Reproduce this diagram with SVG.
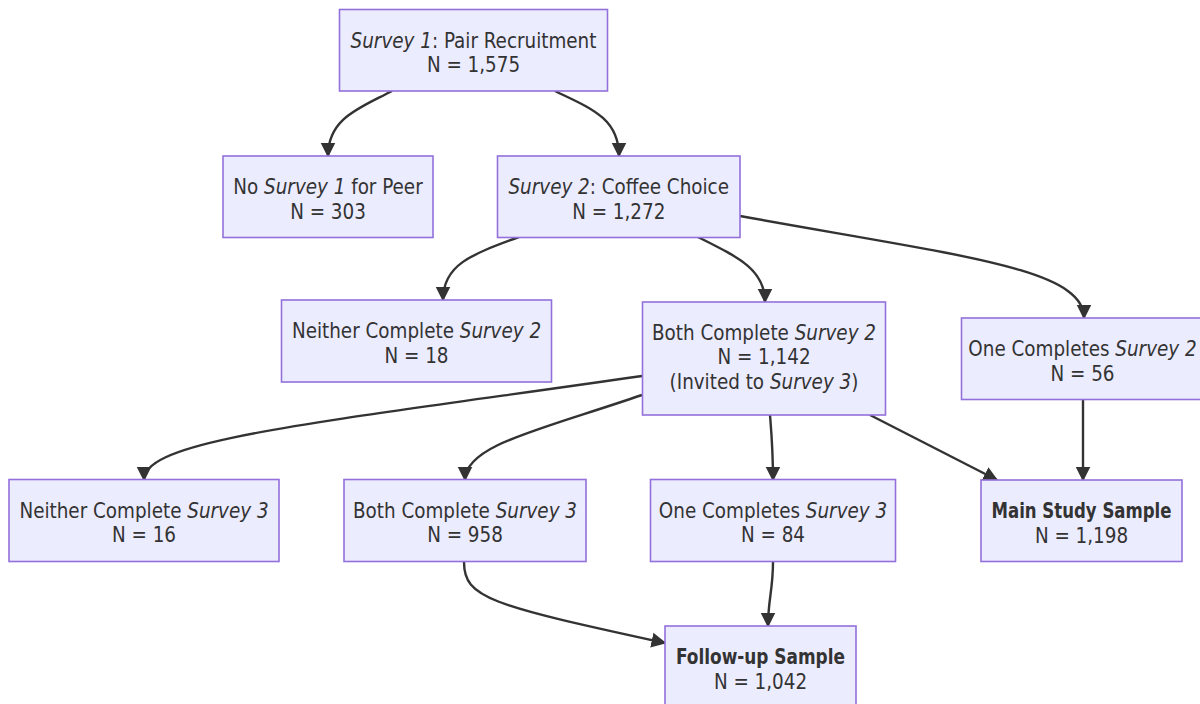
<svg xmlns="http://www.w3.org/2000/svg" width="1200" height="704" viewBox="0 0 1200 704">
<style>
  .node rect { fill:#ECECFF; stroke:#9370DB; stroke-width:1.6; }
  .node text { font-family:"DejaVu Sans Condensed","DejaVu Sans",sans-serif; font-size:20.4px; fill:#333333; text-anchor:middle; }
  .i { font-style:italic; }
  .b { font-weight:bold; }
  .edges path { fill:none; stroke:#333333; stroke-width:2.4; }
</style>
<defs>
  <marker id="arrow" viewBox="0 0 10 10" refX="9" refY="5" markerUnits="userSpaceOnUse" markerWidth="15" markerHeight="16" orient="auto">
    <path d="M0,0 L10,5 L0,10 z" fill="#333333"/>
  </marker>
</defs>
<rect width="1200" height="704" fill="#ffffff"/>
<g class="edges">
  <path d="M392,91 C360,108 328,118 328,156" marker-end="url(#arrow)"/>
  <path d="M555,91 C590,108 619,118 619,156" marker-end="url(#arrow)"/>
  <path d="M519,237 C470,255 443,265 443,300" marker-end="url(#arrow)"/>
  <path d="M698,237 C740,258 765,270 765,302" marker-end="url(#arrow)"/>
  <path d="M740,216 C960,256 1084,268 1084,318" marker-end="url(#arrow)"/>
  <path d="M642,376 C300,425 144,440 144,480" marker-end="url(#arrow)"/>
  <path d="M642,395 C540,430 465,445 465,480" marker-end="url(#arrow)"/>
  <path d="M770,415 C772,440 773,450 773,480" marker-end="url(#arrow)"/>
  <path d="M870,415 L997,480" marker-end="url(#arrow)"/>
  <path d="M1083,400 L1083,480" marker-end="url(#arrow)"/>
  <path d="M464,562 C464,598 490,605 665,643" marker-end="url(#arrow)"/>
  <path d="M773,562 C773,590 768,600 768,626" marker-end="url(#arrow)"/>
</g>
<g id="n-survey1" class="node">
  <rect x="339.5" y="9.5" width="268" height="81.5"/>
  <text x="473.5" y="47.5"><tspan class="i">Survey 1</tspan>: Pair Recruitment</text>
  <text x="473.5" y="72">N = 1,575</text>
</g>
<g id="n-nosurvey1" class="node">
  <rect x="223" y="156" width="210" height="81.5"/>
  <text x="328" y="194">No <tspan class="i">Survey 1</tspan> for Peer</text>
  <text x="328" y="218.5">N = 303</text>
</g>
<g id="n-survey2" class="node">
  <rect x="497.5" y="156" width="242.5" height="81.5"/>
  <text x="618.75" y="194"><tspan class="i">Survey 2</tspan>: Coffee Choice</text>
  <text x="618.75" y="218.5">N = 1,272</text>
</g>
<g id="n-neither2" class="node">
  <rect x="281.5" y="300" width="270" height="82"/>
  <text x="416.5" y="338">Neither Complete <tspan class="i">Survey 2</tspan></text>
  <text x="416.5" y="362.5">N = 18</text>
</g>
<g id="n-both2" class="node">
  <rect x="642.5" y="302" width="243" height="113"/>
  <text x="764" y="339.5">Both Complete <tspan class="i">Survey 2</tspan></text>
  <text x="764" y="364">N = 1,142</text>
  <text x="764" y="388.5">(Invited to <tspan class="i">Survey 3</tspan>)</text>
</g>
<g id="n-one2" class="node">
  <rect x="961.5" y="318" width="242" height="81.5"/>
  <text x="1082.5" y="356">One Completes <tspan class="i">Survey 2</tspan></text>
  <text x="1082.5" y="380.5">N = 56</text>
</g>
<g id="n-neither3" class="node">
  <rect x="9" y="479.5" width="270" height="82"/>
  <text x="144" y="517.5">Neither Complete <tspan class="i">Survey 3</tspan></text>
  <text x="144" y="542">N = 16</text>
</g>
<g id="n-both3" class="node">
  <rect x="344" y="479.5" width="242" height="82"/>
  <text x="465" y="517.5">Both Complete <tspan class="i">Survey 3</tspan></text>
  <text x="465" y="542">N = 958</text>
</g>
<g id="n-one3" class="node">
  <rect x="650.5" y="479.5" width="245" height="82"/>
  <text x="773" y="517.5">One Completes <tspan class="i">Survey 3</tspan></text>
  <text x="773" y="542">N = 84</text>
</g>
<g id="n-main" class="node">
  <rect x="981" y="480" width="201" height="81.5"/>
  <text x="1081.5" y="518" class="b" textLength="180" lengthAdjust="spacingAndGlyphs">Main Study Sample</text>
  <text x="1081.5" y="542.5">N = 1,198</text>
</g>
<g id="n-followup" class="node">
  <rect x="665" y="626" width="191" height="82"/>
  <text x="760.5" y="664" class="b" textLength="169" lengthAdjust="spacingAndGlyphs">Follow-up Sample</text>
  <text x="760.5" y="688.5">N = 1,042</text>
</g>
</svg>
